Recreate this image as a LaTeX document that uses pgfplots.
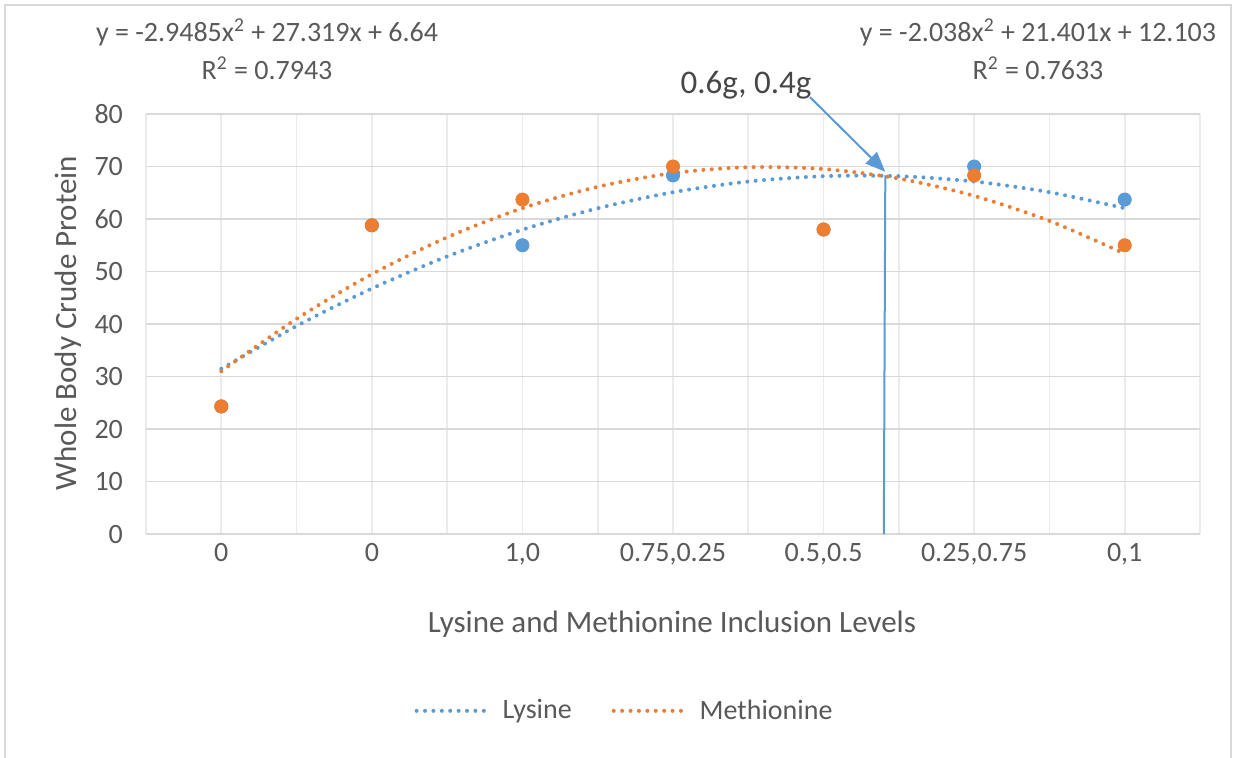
\documentclass[border=0pt]{standalone}
\usepackage{fontspec}
\setmainfont{Carlito}
\usepackage{pgfplots}
\pgfplotsset{compat=1.18}
\usetikzlibrary{arrows.meta}
\definecolor{lys}{HTML}{5B9BD5}
\definecolor{met}{HTML}{ED7D31}
\definecolor{txt}{HTML}{595959}
\definecolor{grd}{HTML}{D9D9D9}
\definecolor{vgrd}{HTML}{EBEBEB}
\tikzset{trend/.style={line width=2pt, line cap=round, dash pattern=on 0pt off 4.2pt}}
\begin{document}
\begin{tikzpicture}[x=0.5pt,y=0.5pt]
\useasboundingbox (0,0) rectangle (1240,757);
\fill[white] (0,0) rectangle (1240,757);
\draw[grd, line width=1pt] (5,-10) rectangle (1231,752);
\begin{axis}[
  at={(73pt,111.5pt)}, anchor=south west, scale only axis,
  width=527pt, height=210pt,
  xmin=0.5, xmax=7.5, ymin=0, ymax=80,
  xtick={1,...,7},
  xticklabels={0,0,{1,0},{0.75,0.25},{0.5,0.5},{0.25,0.75},{0,1}},
  minor xtick={0.5,1.5,...,7.5},
  ytick={0,10,...,80},
  xmajorgrids, xminorgrids, ymajorgrids,
  major x grid style={vgrd, line width=0.9pt},
  minor x grid style={vgrd, line width=0.9pt},
  major y grid style={grd, line width=0.9pt},
  axis line style={draw=none},
  major tick length=0pt, minor tick length=0pt,
  tick label style={font=\fontsize{14}{16}\selectfont, text=txt},
  /pgf/number format/assume math mode=true,
  xticklabel style={yshift=-1pt},
  yticklabel style={xshift=-8pt},
  clip=false,
  legend style={at={(0.455,-0.421)}, anchor=center, draw=none, fill=none,
    font=\fontsize{14}{16}\selectfont, text=txt, legend columns=2,
    /tikz/every odd column/.append style={column sep=4pt},
    /tikz/every even column/.append style={column sep=18pt}},
  legend image code/.code={\draw[#1] (0pt,0pt) -- (36pt,0pt);},
]
\addplot[only marks, mark=*, mark size=3.3pt, color=lys, forget plot]
  coordinates {(1,24.3)(2,58.8)(3,55.0)(4,68.3)(5,58.0)(6,70.0)(7,63.7)};
\addplot[only marks, mark=*, mark size=3.3pt, color=met, forget plot]
  coordinates {(1,24.3)(2,58.8)(3,63.7)(4,70.0)(5,58.0)(6,68.3)(7,55.0)};
% quadratic trendlines, sampled values
\addplot[lys, trend, smooth, forget plot] coordinates {
 (1,31.466)(1.5,39.619)(2,46.753)(2.5,52.868)(3,57.964)(3.5,62.041)(4,65.099)
 (4.5,67.138)(5,68.158)(5.5,68.159)(6,67.141)(6.5,65.104)(7,62.048)};
\addplot[met, trend, smooth, forget plot] coordinates {
 (1,31.011)(1.5,40.984)(2,49.484)(2.5,56.509)(3,62.061)(3.5,66.137)(4,68.740)
 (4.5,69.868)(5,69.522)(5.5,67.702)(6,64.408)(6.5,59.640)(7,53.397)};
\addlegendimage{lys, trend}
\addlegendentry{Lysine}
\addlegendimage{met, trend}
\addlegendentry{Methionine}
\draw[lys, line width=1pt] (axis cs:5.41,68.3) -- (axis cs:5.40,0);
\draw[lys, line width=1pt, -{Triangle[length=10pt, width=8pt]}] (axis cs:4.91,83.2) -- (axis cs:5.41,69.0);
\end{axis}
\node[text=txt, rotate=90, font=\fontsize{15.5}{18}\selectfont] at (68,434) {Whole Body Crude Protein};
\node[text=txt, font=\fontsize{15.5}{18}\selectfont] at (672,133) {Lysine and Methionine Inclusion Levels};
\node[text=txt, align=center, font=\fontsize{14}{19}\selectfont] at (267,708)
  {y = -2.9485x\textsuperscript{2} + 27.319x + 6.64\\R\textsuperscript{2} = 0.7943};
\node[text=txt, align=center, font=\fontsize{14}{19}\selectfont] at (1038,708)
  {y = -2.038x\textsuperscript{2} + 21.401x + 12.103\\R\textsuperscript{2} = 0.7633};
\node[text={black!72}, font=\fontsize{16.5}{19}\selectfont] at (746,672) {0.6g, 0.4g};
\end{tikzpicture}
\end{document}
